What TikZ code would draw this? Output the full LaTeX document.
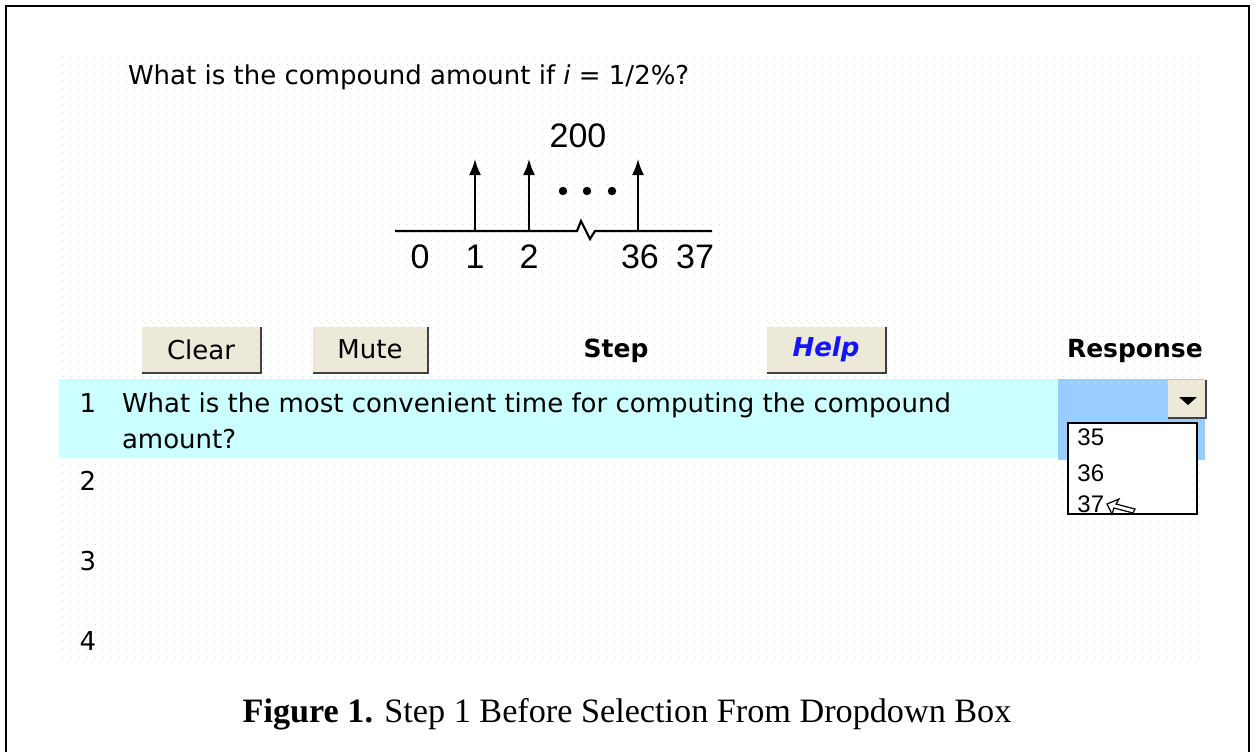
\documentclass[tikz, border = 0pt]{standalone}
\usepackage{fontspec}
\setmainfont{Liberation Serif}
\setsansfont{DejaVu Sans}
\newfontfamily\arialfont{Liberation Sans}
\usetikzlibrary{patterns.meta, arrows.meta}
\definecolor{button face}{HTML}{ECE9D8}
\definecolor{row cyan}{HTML}{CCFFFF}
\definecolor{response blue}{HTML}{99CCFF}
\definecolor{help blue}{HTML}{1414FF}
\tikzset{
	screen/.is family,
	screen/.cd,
	gui text/.style = {
		inner sep = 0pt,
		outer sep = 0pt,
		font = \sffamily\fontsize{13}{15}\selectfont,
	},
	button/.style = {
		screen/gui text,
		fill = button face,
		minimum height = 22.5pt,
		% shadow on the lower and right edge
		append after command = {%
			\pgfextra{%
				\begin{pgfinterruptpath}
					\draw[line width = 1.5pt, black!75] (\tikzlastnode.south west) -| (\tikzlastnode.north east);
				\end{pgfinterruptpath}
			}
		}
	},
	heading/.style = {
		screen/gui text,
		font = \sffamily\bfseries\fontsize{12.5}{15}\selectfont,
		anchor = base,
	},
	row number/.style = {
		screen/gui text,
		anchor = base,
	},
	list item/.style = {
		inner sep = 0pt,
		anchor = base west,
		font = \arialfont\fontsize{12}{14}\selectfont,
	},
	cash arrow/.style = {
		line width = 1pt,
		->,
	},
	tick label/.style = {
		inner sep = 0pt,
		anchor = base,
		font = \arialfont\fontsize{17}{19}\selectfont,
	},
	dotted area/.style = {
		draw = none,
		pattern = {
			Dots[
				distance = 4pt,
				radius = 0.35pt,
			],
		},
		pattern color = black!14,
	},
}

\begin{document}
\begin{tikzpicture}[x = 0.5pt, y = -0.5pt, > = {Latex[length = 8pt, width = 6pt]}]
	\useasboundingbox (0, 0) rectangle (1254, 751);
	\fill[white] (0, 0) rectangle (1254, 751);
	\draw[line width = 1pt] (5.5, 5.5) rectangle (1249, 753);

	\path[screen/dotted area] (62, 50) rectangle (1200, 660);

	\node[screen/gui text, anchor = base west] (question) at (128, 84) {What is the compound amount if \textit{i} = 1/2\%?};

	% cash flow diagram
	\coordinate (axis start) at (395, 231);
	\coordinate (axis end) at (712, 231);
	\draw[line width = 1.1pt] (axis start) -- (577, 231) -- (581, 221) -- (590, 239) -- (595, 231) -- (axis end);
	\foreach \t/\x in {1/475, 2/529, 36/638} {
		\coordinate (foot \t) at (\x, 231);
		\coordinate (head \t) at (\x, 159);
		\draw[screen/cash arrow] (foot \t) -- (head \t);
	}
	\foreach \x in {563, 587, 612} {
		\fill (\x, 191) circle[radius = 2.1pt];
	}
	\node[screen/tick label] (amount) at (578, 147) {200};
	\foreach \t/\x in {0/420, 1/475, 2/529, 36/640, 37/695} {
		\node[screen/tick label] (label \t) at (\x, 268) {\t};
	}

	% buttons and headings
	\node[screen/button, minimum width = 59pt] (clear) at (201, 349.5) {Clear};
	\node[screen/button, minimum width = 57pt] (mute) at (370, 349.5) {Mute};
	\node[screen/button, minimum width = 59pt, text = help blue, font = \sffamily\bfseries\itshape\fontsize{13}{15}\selectfont] (help) at (826, 349.5) {Help};
	\node[screen/heading] (step) at (616, 357) {Step};
	\node[screen/heading, anchor = base west] (response) at (1067, 357) {Response};

	% step rows
	\fill[row cyan] (59, 379) rectangle (1205, 458);
	\fill[response blue] (1058, 379) rectangle (1205, 460);
	\foreach \n/\y in {1/412, 2/490, 3/570, 4/650} {
		\node[screen/row number] (row \n) at (88, \y) {\n};
	}
	\node[screen/gui text, anchor = base west] (step text) at (122, 412) {What is the most convenient time for computing the compound};
	\node[screen/gui text, anchor = base west] (step text 2) at (122, 448) {amount?};

	% dropdown
	\node[screen/button, minimum width = 18.5pt, minimum height = 18.5pt] (drop button) at (1186.5, 398.5) {};
	\fill (1179, 397) -- (1197, 397) -- (1188, 405) -- cycle;
	\node[draw, fill = white, line width = 0.6pt, minimum width = 64.5pt, minimum height = 45.5pt, inner sep = 0pt] (drop list) at (1132.5, 468.5) {};
	\foreach \v/\y in {35/445, 36/481, 37/512} {
		\node[screen/list item] (item \v) at (1077, \y) {\v};
	}
	\draw[fill = white, line width = 0.6pt] (1107, 504) -- (1119, 499) -- (1116, 504) -- (1135, 509) -- (1133, 513) -- (1114, 508) -- (1112, 514) -- cycle;

	\node[anchor = base, inner sep = 0pt, font = \fontsize{17.1}{20}\selectfont] (caption) at (627, 722) {\textbf{Figure 1.} Step 1 Before Selection From Dropdown Box};
\end{tikzpicture}
\end{document}
